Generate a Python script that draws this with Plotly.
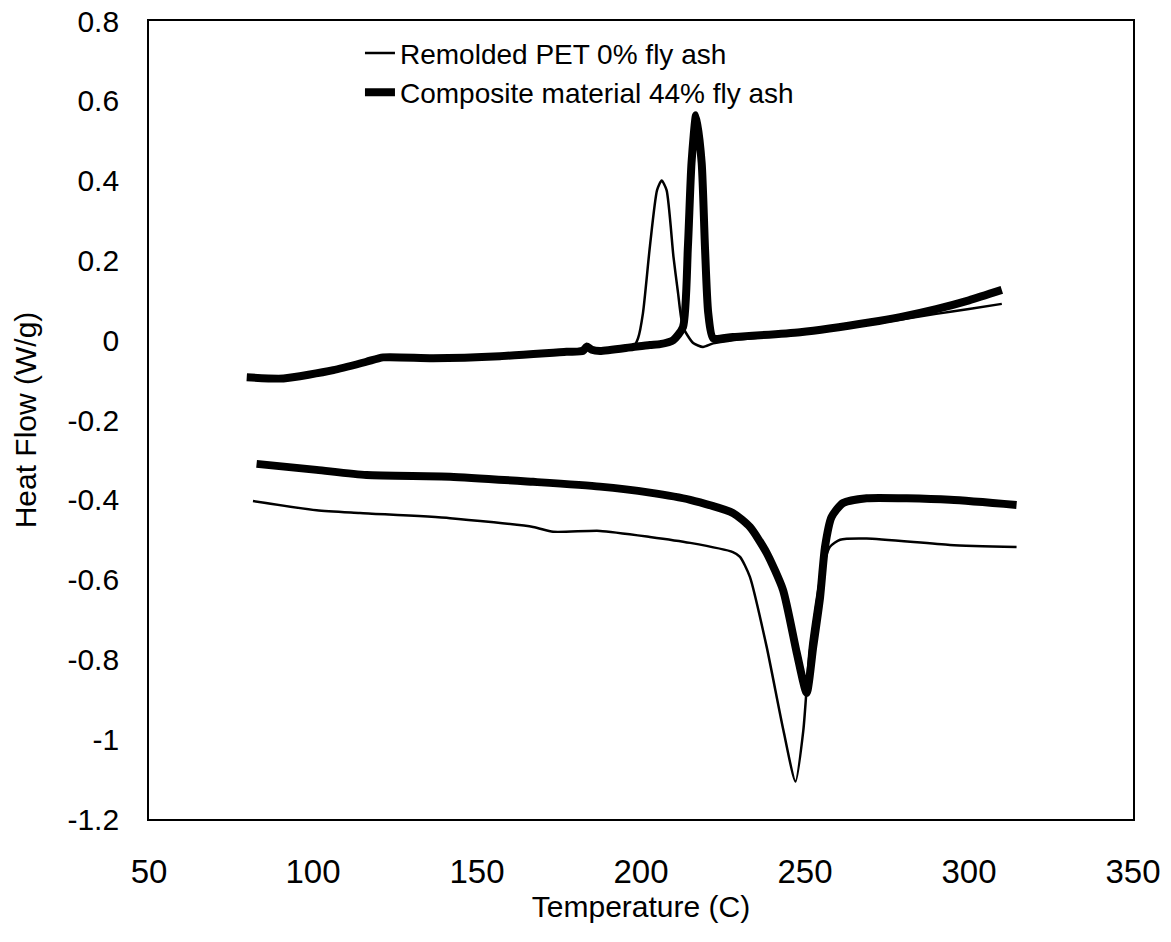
import plotly.graph_objects as go

# ---- data ----
# Remolded PET 0% fly ash - cooling (upper) curve
pet_cool_T = [80, 91, 106, 116, 121.4, 136.6, 157, 177.3, 183.4, 187.5, 197.6, 199.1, 200.6, 202.7,
              204.9, 206.3, 207.8, 209.9, 211.3, 212.8, 215.9, 218.9, 222, 228, 248.5, 270, 290, 300, 310]
pet_cool_Y = [-0.093, -0.096, -0.075, -0.054, -0.043, -0.045, -0.04, -0.029, -0.018, -0.029, -0.017, 0.005, 0.068, 0.234,
              0.376, 0.40, 0.376, 0.209, 0.118, 0.033, -0.007, -0.017, -0.008, 0.0, 0.016, 0.04, 0.066, 0.078, 0.091]
# Remolded PET 0% fly ash - heating (lower) curve
pet_heat_T = [81.7, 101.1, 114.3, 141.8, 167.1, 173.2, 187.5, 202.7, 215, 228, 230.2, 233.2, 238.3, 243.4,
              247.1, 249.5, 251.5, 254.6, 257.6, 260.7, 268.8, 294.2, 314.5]
pet_heat_Y = [-0.403, -0.426, -0.433, -0.446, -0.468, -0.48, -0.478, -0.493, -0.508, -0.531, -0.543, -0.593, -0.768, -0.977,
              -1.106, -0.977, -0.768, -0.601, -0.518, -0.50, -0.497, -0.513, -0.518]

# Composite material 44% fly ash - cooling (upper) curve
comp_cool_T = [79.8, 91, 106.2, 116.3, 121.4, 136.6, 157, 177.3, 182.3, 183.4, 185, 187.5, 197.6, 202.7, 205.8, 209.8,
               212.8, 214.3, 215.4, 216.8, 218.5, 219.5, 220.5, 222, 228, 248.5, 270, 279, 290, 300, 310]
comp_cool_Y = [-0.093, -0.096, -0.075, -0.054, -0.043, -0.045, -0.04, -0.029, -0.027, -0.016, -0.024, -0.027, -0.017, -0.012, -0.010, 0.0,
               0.033, 0.234, 0.444, 0.564, 0.444, 0.234, 0.068, 0.005, 0.008, 0.02, 0.045, 0.058, 0.078, 0.10, 0.126]
# Composite material 44% fly ash - heating (lower) curve
comp_heat_T = [82.8, 101.1, 116.3, 141.8, 167.1, 187.5, 202.7, 215, 228, 233.2, 238.3, 243.3, 247.5, 250.5,
               252.5, 254.6, 256.1, 258.1, 261.6, 268.8, 294.2, 314.5]
comp_heat_Y = [-0.31, -0.325, -0.338, -0.342, -0.355, -0.367, -0.382, -0.40, -0.433, -0.468, -0.533, -0.626, -0.784, -0.884,
               -0.769, -0.644, -0.518, -0.443, -0.408, -0.396, -0.40, -0.413]

series_names = ["Remolded PET 0% fly ash", "Composite material 44% fly ash"]
x_ticks = [50, 100, 150, 200, 250, 300, 350]
y_ticks = [0.8, 0.6, 0.4, 0.2, 0, -0.2, -0.4, -0.6, -0.8, -1, -1.2]

FONT = "Liberation Sans, Arial, sans-serif"

fig = go.Figure()
fig.add_trace(go.Scatter(
    x=pet_cool_T + [None] + pet_heat_T,
    y=pet_cool_Y + [None] + pet_heat_Y,
    mode="lines", name=series_names[0], connectgaps=False,
    line=dict(color="black", width=2.5, shape="spline", smoothing=0.6),
))
fig.add_trace(go.Scatter(
    x=comp_cool_T + [None] + comp_heat_T,
    y=comp_cool_Y + [None] + comp_heat_Y,
    mode="lines", name=series_names[1], connectgaps=False,
    line=dict(color="black", width=8, shape="spline", smoothing=0.6),
))

fig.update_layout(
    width=1171, height=942,
    margin=dict(l=149, r=38, t=21, b=123, autoexpand=False),
    paper_bgcolor="white", plot_bgcolor="white",
    font=dict(family=FONT, color="black"),
    showlegend=True,
    legend=dict(x=0.2144, y=0.991, xanchor="left", yanchor="top",
                bgcolor="rgba(0,0,0,0)", borderwidth=0,
                font=dict(size=28, family=FONT, color="black"),
                tracegroupgap=0),
)
fig.update_xaxes(
    range=[50, 350], tickvals=x_ticks, ticktext=[str(v) for v in x_ticks],
    showgrid=False, zeroline=False, showline=True, linecolor="black", linewidth=1.8,
    mirror=True, ticks="", ticklabelstandoff=22, automargin=False,
    tickfont=dict(size=33, family=FONT),
    title=dict(text="Temperature (C)", font=dict(size=30, family=FONT), standoff=0),
)
fig.update_yaxes(
    range=[-1.2, 0.8], tickvals=y_ticks, ticktext=[("%g" % v) for v in y_ticks],
    showgrid=False, zeroline=False, showline=True, linecolor="black", linewidth=1.8,
    mirror=True, ticks="", ticklabelstandoff=22, automargin=False,
    tickfont=dict(size=30, family=FONT),
    title=dict(text="Heat Flow (W/g)", font=dict(size=30, family=FONT), standoff=22),
)

fig.write_html("out.html")
